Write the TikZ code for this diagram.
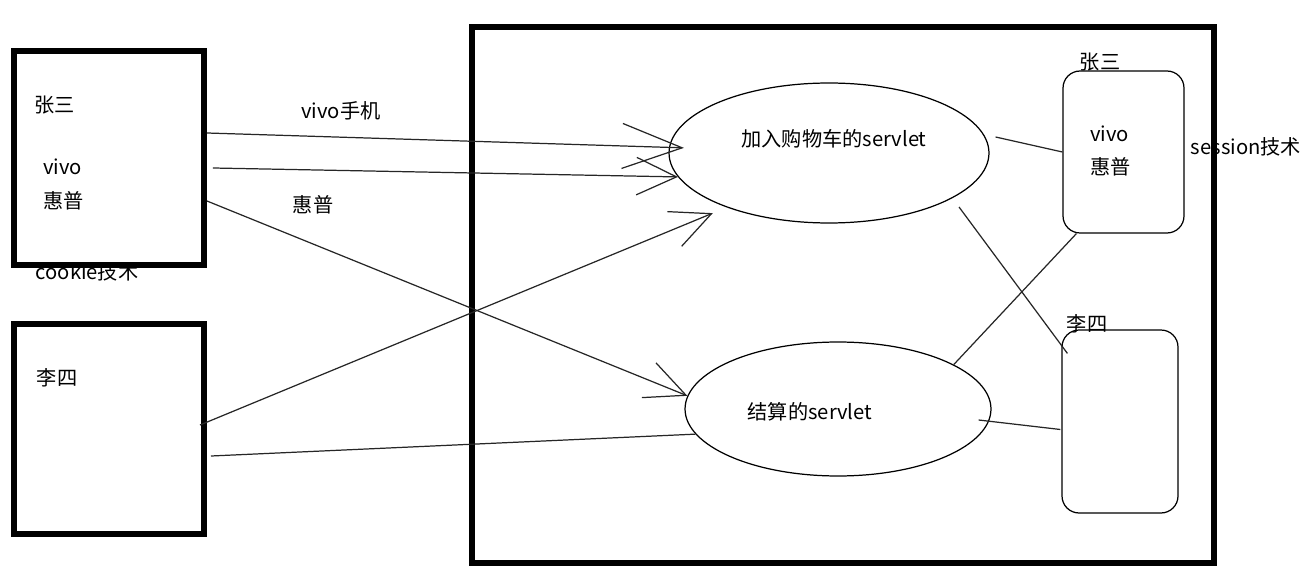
\documentclass[tikz,border=0pt]{standalone}
\usepackage{fontspec}
\setmainfont{Noto Sans CJK SC}
\usepackage{tikz}
\usetikzlibrary{shapes,calc,arrows.meta}

\begin{document}
\begin{tikzpicture}[x=0.02cm,y=-0.02cm]
        % Define the styles for boxes, servlets and text
        \tikzstyle{thick box}=[draw, rectangle, line width=0.12cm, inner sep=0pt];
        \tikzstyle{servlet}=[draw, ellipse, line width=0.7pt, inner sep=0pt];
        \tikzstyle{session}=[draw, rectangle, rounded corners=0.34cm, line width=0.7pt, inner sep=0pt];
        \tikzstyle{txt}=[inner sep=0pt, font=\fontsize{11.5}{13}\selectfont];
        \tikzstyle{link}=[line width=0.7pt, black!85];
        \tikzstyle{barb}=[link, -{Straight Barb[length=0.8cm, width=0.75cm]}];

        \useasboundingbox (0,0) rectangle (1307,577);

        % Texts of the clients (drawn first, the borders run over them)
        \node[txt] (zsname) at (55,105) {张三};
        \node[txt, anchor=west] (zsvivo) at (43,167) {vivo};
        \node[txt, anchor=west] (zshp) at (43,201) {惠普};
        \node[txt] (cookie) at (87,272) {cookie技术};
        \node[txt] (lsname) at (57,378) {李四};

        % Texts of the server side
        \node[txt] (sessname1) at (1100,62) {张三};
        \node[txt, anchor=west] (sessvivo) at (1090,134) {vivo};
        \node[txt, anchor=west] (sesshp) at (1090,167) {惠普};
        \node[txt] (sessname2) at (1087,324) {李四};
        \node[txt] (sesstech) at (1246,147) {session技术};
        \node[txt] (carttext) at (834,139) {加入购物车的servlet};
        \node[txt] (paytext) at (810,412) {结算的servlet};

        % Labels on the arrows
        \node[txt] (vivolabel) at (341,111) {vivo手机};
        \node[txt] (hplabel) at (313,205) {惠普};

        % Two clients (browsers)
        \node[thick box, minimum width=3.81cm, minimum height=4.28cm] (client1) at (108.75,158) {};
        \node[thick box, minimum width=3.81cm, minimum height=4.2cm] (client2) at (108.75,429) {};

        % The server
        \node[thick box, minimum width=14.85cm, minimum height=10.73cm] (server) at (843.25,295.25) {};

        % Two servlets
        \node[servlet, minimum width=6.4cm, minimum height=2.8cm] (cart) at (829,153) {};
        \node[servlet, minimum width=6.12cm, minimum height=2.68cm] (pay) at (838,409) {};

        % Two sessions
        \node[session, minimum width=2.42cm, minimum height=3.24cm] (sess1) at (1123.5,152) {};
        \node[session, minimum width=2.32cm, minimum height=3.66cm] (sess2) at (1120,421.5) {};

        % Requests from the clients
        \draw[barb, -{Straight Barb[length=1.2cm, width=0.9cm]}, shorten >=-0.3cm] ($(client1.east)+(0,-25)$) -- (cart.178);
        \draw[barb] ($(client1.east)+(6,10)$) -- (cart.189);
        \draw[barb] ($(client1.east)+(0,43)$) -- (pay.175);
        \draw[barb, shorten >=0.3cm] ($(client2.east)+(-7,-4)$) -- (cart.208);
        \draw[link] ($(client2.east)+(4,27)$) -- (pay.190);

        % Servlets to sessions
        \draw[link] ($(cart.east)+(6,-16)$) -- (sess1.west);
        \draw[link] ($(cart.center)+(130,54)$) -- ($(sess2.north west)+(6,24)$);
        \draw[link] (pay.21) -- ($(sess1.south west)+(14,0)$);
        \draw[link] ($(pay.east)+(-13,11)$) -- ($(sess2.west)+(-1,8)$);

    \end{tikzpicture}
\end{document}
